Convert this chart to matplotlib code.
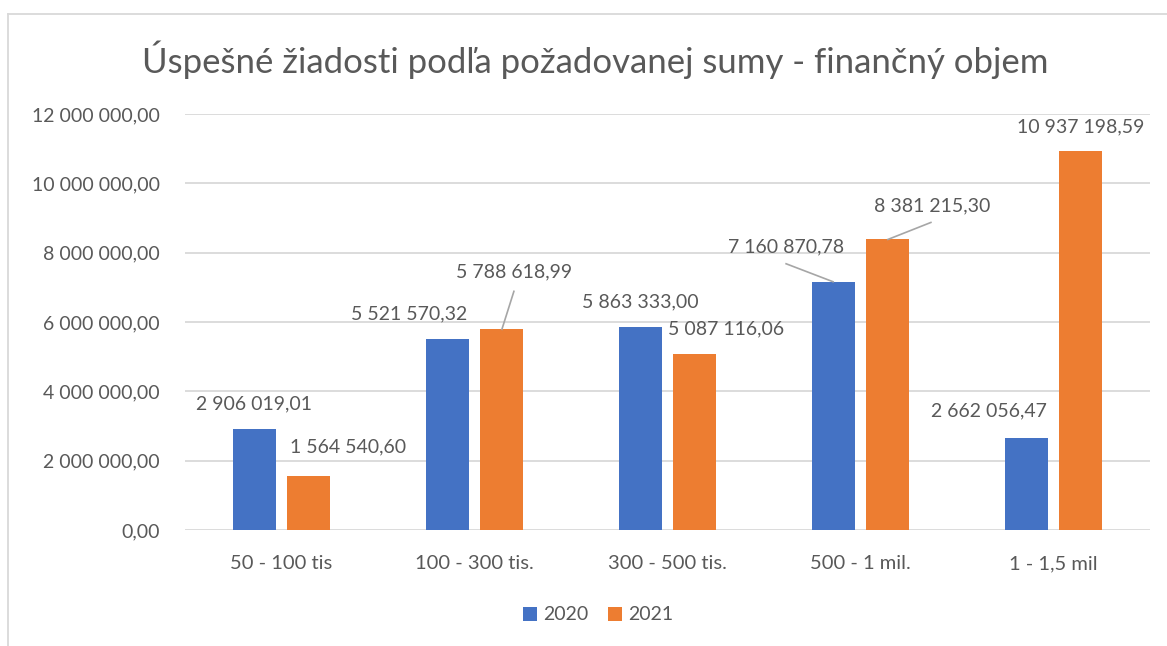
import matplotlib
matplotlib.use("Agg")
import matplotlib.pyplot as plt
import numpy as np
from matplotlib.lines import Line2D

categories = ["50 - 100 tis", "100 - 300 tis.", "300 - 500 tis.", "500 - 1 mil.", "1 - 1,5 mil"]
series_names = ["2020", "2021"]
values_2020 = [2906019.01, 5521570.32, 5863333.00, 7160870.78, 2662056.47]
values_2021 = [1564540.60, 5788618.99, 5087116.06, 8381215.30, 10937198.59]
yticks = [0, 2000000, 4000000, 6000000, 8000000, 10000000, 12000000]
title = "Úspešné žiadosti podľa požadovanej sumy - finančný objem"

colors = ["#4472C4", "#ED7D31"]
text_color = "#595959"
grid_color = "#D9D9D9"
FONT = "Lato"

# label offsets (pixels) from bar-top center to label center
offs_2020 = [(0, 25), (-38, 25), (0, 25), (-47, 35), (-37, 27)]
offs_2021 = [(39, 29), (12, 57), (31, 25), (44, 34), (0, 24)]
# leader lines: end point (dx, dy) in pixels from bar-top center, or None
lead_2020 = [None, None, None, (-47, 18), None]
lead_2021 = [None, (12, 38), None, (43, 17), None]

def fmt(v):
    s = f"{v:,.2f}"
    return s.replace(",", " ").replace(".", ",")

W, H = 1167, 646
fig = plt.figure(figsize=(W / 100, H / 100), dpi=100)
ax = fig.add_axes([185 / W, 1 - 530 / H, 965 / W, 416 / H])

x = np.arange(len(categories))
bw = 0.222
off = 0.142
b1 = ax.bar(x - off, values_2020, bw, color=colors[0], label=series_names[0], zorder=3)
b2 = ax.bar(x + off, values_2021, bw, color=colors[1], label=series_names[1], zorder=3)

ax.set_xlim(-0.5, len(categories) - 0.5)
ax.set_ylim(0, 12000000)
ax.set_yticks(yticks)
ax.set_yticklabels([fmt(v) for v in yticks], fontsize=14, color=text_color, family=FONT)
ax.set_xticks(x)
ax.set_xticklabels(categories, fontsize=14.5, color=text_color, family=FONT)
ax.tick_params(axis="both", length=0)
ax.tick_params(axis="y", pad=18)
ax.tick_params(axis="x", pad=18)
ax.grid(axis="y", color=grid_color, linewidth=1.3, zorder=0)
for s in ax.spines.values():
    s.set_visible(False)

def label(bars, vals, offs, leads):
    for rect, v, (dx, dy), lead in zip(bars, vals, offs, leads):
        xc = rect.get_x() + rect.get_width() / 2
        yt = rect.get_height()
        ax.annotate(fmt(v), xy=(xc, yt), xytext=(dx, dy), textcoords="offset pixels",
                    ha="center", va="center", fontsize=14, color=text_color, family=FONT,
                    annotation_clip=False)
        if lead is not None:
            x1, y1 = lead
            px, py = ax.transData.transform((xc, yt))
            inv = ax.transData.inverted()
            p1 = inv.transform((px + x1, py + y1))
            ax.plot([xc, p1[0]], [yt, p1[1]], color="#A6A6A6", lw=1.2, zorder=4,
                    clip_on=False)

label(b1, values_2020, offs_2020, lead_2020)
label(b2, values_2021, offs_2021, lead_2021)

fig.text(595 / W, 1 - 60 / H, title, ha="center", va="center", fontsize=25, color=text_color, family=FONT)

leg = fig.legend(handles=[b1, b2], labels=series_names, loc="center", bbox_to_anchor=(598 / W, 1 - 615 / H),
                 ncol=2, frameon=False, handlelength=0.75, handleheight=0.75,
                 columnspacing=1.0, handletextpad=0.3, prop={"family": FONT, "size": 14})
for t in leg.get_texts():
    t.set_color(text_color)

# chart frame
fig.add_artist(Line2D([8 / W, 8 / W], [0, 1 - 14 / H], color="#D9D9D9", lw=1.3))
fig.add_artist(Line2D([8 / W, 1], [1 - 14 / H, 1 - 14 / H], color="#D9D9D9", lw=1.3))

fig.savefig("out.png", dpi=100, facecolor="white")
